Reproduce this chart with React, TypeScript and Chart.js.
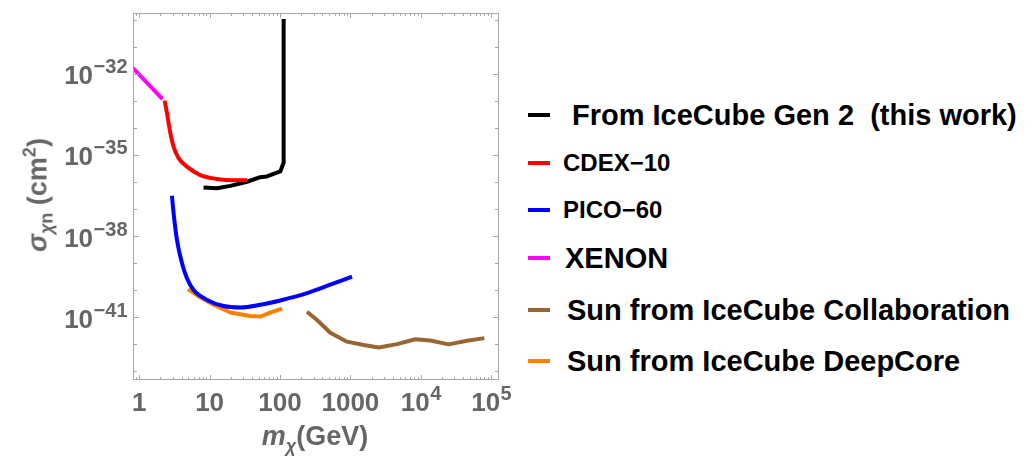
import React, { useEffect, useRef } from 'react';
import { Chart, registerables } from 'chart.js';
Chart.register(...registerables);

// ---- data (mass in GeV, cross-section in cm^2) ----
const GEN2_M = [8.2, 12.7, 19.7, 34, 52.5, 65.3, 101, 112, 112.5, 113];
const GEN2_S = [6.3e-37, 5.9e-37, 7.2e-37, 1.02e-36, 1.5e-36, 1.6e-36, 2.45e-36, 5.0e-36, 1e-33, 1.05e-30];

const CDEX_M = [2.3, 2.48, 2.77, 3.08, 3.63, 4.77, 7.38, 12.7, 21.9, 34];
const CDEX_S = [1.02e-33, 3.5e-34, 6.5e-35, 2.0e-35, 7.6e-36, 3.7e-36, 1.8e-36, 1.3e-36, 1.17e-36, 1.17e-36];

const PICO_M = [2.92, 3.08, 3.44, 4.06, 4.77, 5.93, 9.2, 15.8, 27.3, 52.5, 101, 242, 518, 1055];
const PICO_S = [3.1e-37, 7.1e-38, 7.2e-39, 1.0e-39, 2.75e-40, 1.02e-40, 4.4e-41, 2.6e-41, 2.3e-41, 2.9e-41, 4.2e-41, 7.8e-41, 1.6e-40, 3.2e-40];

const XENON_M = [0.817, 2.15];
const XENON_S = [1.6e-32, 1.16e-33];

const SUN_IC_M = [242, 336, 518, 893, 1541, 2518, 4592, 8356, 13650, 24830, 45300, 79800];
const SUN_IC_S = [1.6e-41, 7.9e-42, 2.7e-42, 1.26e-42, 9.5e-43, 7.6e-43, 1.02e-42, 1.55e-42, 1.38e-42, 1.0e-42, 1.35e-42, 1.7e-42];

const SUN_DC_M = [4.93, 7.38, 11.4, 19.7, 37.8, 52.5, 72.8, 107];
const SUN_DC_S = [1.1e-40, 5.5e-41, 2.9e-41, 1.5e-41, 1.12e-41, 1.07e-41, 1.5e-41, 2.1e-41];

// ---- tick labels ----
const X_TICK_VALUES = [1, 10, 100, 1000, 1e4, 1e5];
const X_TICK_BASE = ['1', '10', '100', '1000', '10', '10'];
const X_TICK_EXP = ['', '', '', '', '4', '5'];
const Y_TICK_VALUES = [1e-32, 1e-35, 1e-38, 1e-41];
const Y_TICK_BASE = ['10', '10', '10', '10'];
const Y_TICK_EXP = ['−32', '−35', '−38', '−41'];

const SERIES_NAMES = [
  'From IceCube Gen 2  (this work)',
  'CDEX−10',
  'PICO−60',
  'XENON',
  'Sun from IceCube Collaboration',
  'Sun from IceCube DeepCore',
];
const SERIES_COLORS = ['#000000', '#ff0000', '#0000ff', '#ff00ff', '#996633', '#ff8000'];

const FONT = '"Liberation Sans", Arial, sans-serif';
const GRAY = '#666666';

const pts = (m: number[], s: number[]) => m.map((v, i) => ({ x: v, y: s[i] }));
const findIdx = (arr: number[], v: number) =>
  arr.findIndex((t) => Math.abs(Math.log10(t) - Math.log10(v)) < 1e-6);

const frameTicks = {
  id: 'frameTicks',
  afterDraw(chart: any) {
    const { ctx, chartArea: a, scales } = chart;
    const xs = scales.x, ys = scales.y;
    ctx.save();
    // frame
    ctx.strokeStyle = '#a8a8a8';
    ctx.lineWidth = 1;
    ctx.strokeRect(Math.round(a.left) + 0.5, Math.round(a.top) + 0.5, Math.round(a.width) - 1, Math.round(a.height) - 1);
    // inward ticks
    ctx.beginPath();
    for (let d = -1; d <= 5; d++) {
      for (let k = 1; k <= 9; k++) {
        const v = k * Math.pow(10, d);
        if (v < xs.min || v > xs.max) continue;
        const px = Math.round(xs.getPixelForValue(v)) + 0.5;
        const len = k === 1 ? 5 : 3;
        ctx.moveTo(px, a.bottom);
        ctx.lineTo(px, a.bottom - len);
        ctx.moveTo(px, a.top);
        ctx.lineTo(px, a.top + len);
      }
    }
    for (let e = -44; e <= -29; e++) {
      const v = Math.pow(10, e);
      if (v < ys.min || v > ys.max) continue;
      const py = Math.round(ys.getPixelForValue(v)) + 0.5;
      const len = (e + 32) % 3 === 0 ? 6 : 4;
      ctx.moveTo(a.left, py);
      ctx.lineTo(a.left + len, py);
      ctx.moveTo(a.right, py);
      ctx.lineTo(a.right - len, py);
    }
    ctx.stroke();

    // tick labels with superscripts
    ctx.fillStyle = GRAY;
    ctx.textAlign = 'left';
    ctx.textBaseline = 'alphabetic';
    const baseFont = `bold 26px ${FONT}`;
    const expFont = `bold 20px ${FONT}`;
    const measure = (b: string, e: string) => {
      ctx.font = baseFont;
      const wb = ctx.measureText(b).width;
      ctx.font = expFont;
      const we = e ? ctx.measureText(e).width : 0;
      return [wb, we];
    };
    const draw = (b: string, e: string, x0: number, by: number, wb: number) => {
      ctx.font = baseFont;
      ctx.fillText(b, x0, by);
      if (e) {
        ctx.font = expFont;
        ctx.fillText(e, x0 + wb + 0.5, by - 11);
      }
    };
    xs.ticks.forEach((t: any) => {
      const i = findIdx(X_TICK_VALUES, t.value);
      if (i < 0) return;
      const [wb, we] = measure(X_TICK_BASE[i], X_TICK_EXP[i]);
      const px = xs.getPixelForValue(t.value);
      draw(X_TICK_BASE[i], X_TICK_EXP[i], px - (wb + we) / 2, a.bottom + 31, wb);
    });
    ys.ticks.forEach((t: any) => {
      const i = findIdx(Y_TICK_VALUES, t.value);
      if (i < 0) return;
      const [wb, we] = measure(Y_TICK_BASE[i], Y_TICK_EXP[i]);
      const py = ys.getPixelForValue(t.value);
      draw(Y_TICK_BASE[i], Y_TICK_EXP[i], a.left - 6 - (wb + we), py + 10.5, wb);
    });
    ctx.restore();
  },
};

export default function App() {
  const ref = useRef<HTMLCanvasElement>(null);

  useEffect(() => {
    const mk = (m: number[], s: number[], idx: number, smooth: boolean) => ({
      label: SERIES_NAMES[idx],
      data: pts(m, s),
      borderColor: SERIES_COLORS[idx],
      backgroundColor: SERIES_COLORS[idx],
      borderWidth: 4,
      pointRadius: 0,
      borderJoinStyle: 'round' as const,
      fill: false,
      cubicInterpolationMode: smooth ? ('monotone' as const) : ('default' as const),
      tension: 0,
    });
    const chart = new Chart(ref.current as HTMLCanvasElement, {
      type: 'line',
      data: {
        datasets: [
          mk(XENON_M, XENON_S, 3, false),
          mk(CDEX_M, CDEX_S, 1, true),
          mk(PICO_M, PICO_S, 2, true),
          mk(SUN_DC_M, SUN_DC_S, 5, false),
          mk(SUN_IC_M, SUN_IC_S, 4, false),
          mk(GEN2_M, GEN2_S, 0, false),
        ],
      },
      options: {
        animation: false,
        responsive: false,
        devicePixelRatio: 1,
        parsing: false as any,
        layout: { padding: { top: 13, right: 21, left: 0, bottom: 0 } },
        plugins: { legend: { display: false }, tooltip: { enabled: false } },
        scales: {
          x: {
            type: 'logarithmic',
            min: 0.817,
            max: 1.29e5,
            afterBuildTicks: (s: any) => {
              s.ticks = X_TICK_VALUES.map((v) => ({ value: v }));
            },
            afterFit: (s: any) => {
              s.height = 82;
            },
            ticks: { display: false, autoSkip: false },
            grid: { display: false },
            border: { display: false },
          },
          y: {
            type: 'logarithmic',
            min: Math.pow(10, -43.317),
            max: Math.pow(10, -29.755),
            afterBuildTicks: (s: any) => {
              s.ticks = Y_TICK_VALUES.map((v) => ({ value: v }));
            },
            afterFit: (s: any) => {
              s.width = 133;
            },
            ticks: { display: false, autoSkip: false },
            grid: { display: false },
            border: { display: false },
          },
        },
      },
      plugins: [frameTicks],
    } as any);
    return () => chart.destroy();
  }, []);

  const legendRows = [
    { cy: 115, left: 572, size: 29 },
    { cy: 163, left: 563, size: 24 },
    { cy: 210, left: 563, size: 24 },
    { cy: 258, left: 565, size: 29 },
    { cy: 310, left: 567, size: 29 },
    { cy: 361, left: 567, size: 29 },
  ];

  return (
    <div style={{ position: 'absolute', left: 0, top: 0, width: 1035, height: 462, background: '#fff', fontFamily: FONT, overflow: 'hidden' }}>
      <canvas ref={ref} width={520} height={462} style={{ position: 'absolute', left: 0, top: 0, width: 520, height: 462 }} />
      {/* y-axis title */}
      <div
        style={{
          position: 'absolute', left: 38, top: 195, transform: 'translate(-50%,-50%) rotate(-90deg)',
          whiteSpace: 'nowrap', fontSize: 27, fontWeight: 'bold', color: GRAY, lineHeight: 1,
        }}
      >
        <span style={{ fontStyle: 'italic' }}>σ</span>
        <span style={{ fontSize: 18, position: 'relative', top: 6 }}><i>χ</i>n</span>
        {' (cm'}
        <span style={{ fontSize: 18, position: 'relative', top: -11 }}>2</span>
        {')'}
      </div>
      {/* x-axis title */}
      <div
        style={{
          position: 'absolute', left: 315, top: 436, transform: 'translate(-50%,-50%)',
          whiteSpace: 'nowrap', fontSize: 27, fontWeight: 'bold', color: GRAY, lineHeight: 1,
        }}
      >
        <i>m</i>
        <span style={{ fontSize: 18, position: 'relative', top: 7 }}><i>χ</i></span>
        (GeV)
      </div>
      {/* legend */}
      {legendRows.map((r, i) => (
        <React.Fragment key={i}>
          <div style={{ position: 'absolute', left: 528, top: r.cy - 2, width: 22, height: 4, background: SERIES_COLORS[i] }} />
          <div
            style={{
              position: 'absolute', left: r.left, top: r.cy, transform: 'translateY(-50%)',
              whiteSpace: 'pre', fontSize: r.size, fontWeight: 'bold', color: '#000', lineHeight: 1,
            }}
          >
            {SERIES_NAMES[i]}
          </div>
        </React.Fragment>
      ))}
    </div>
  );
}
